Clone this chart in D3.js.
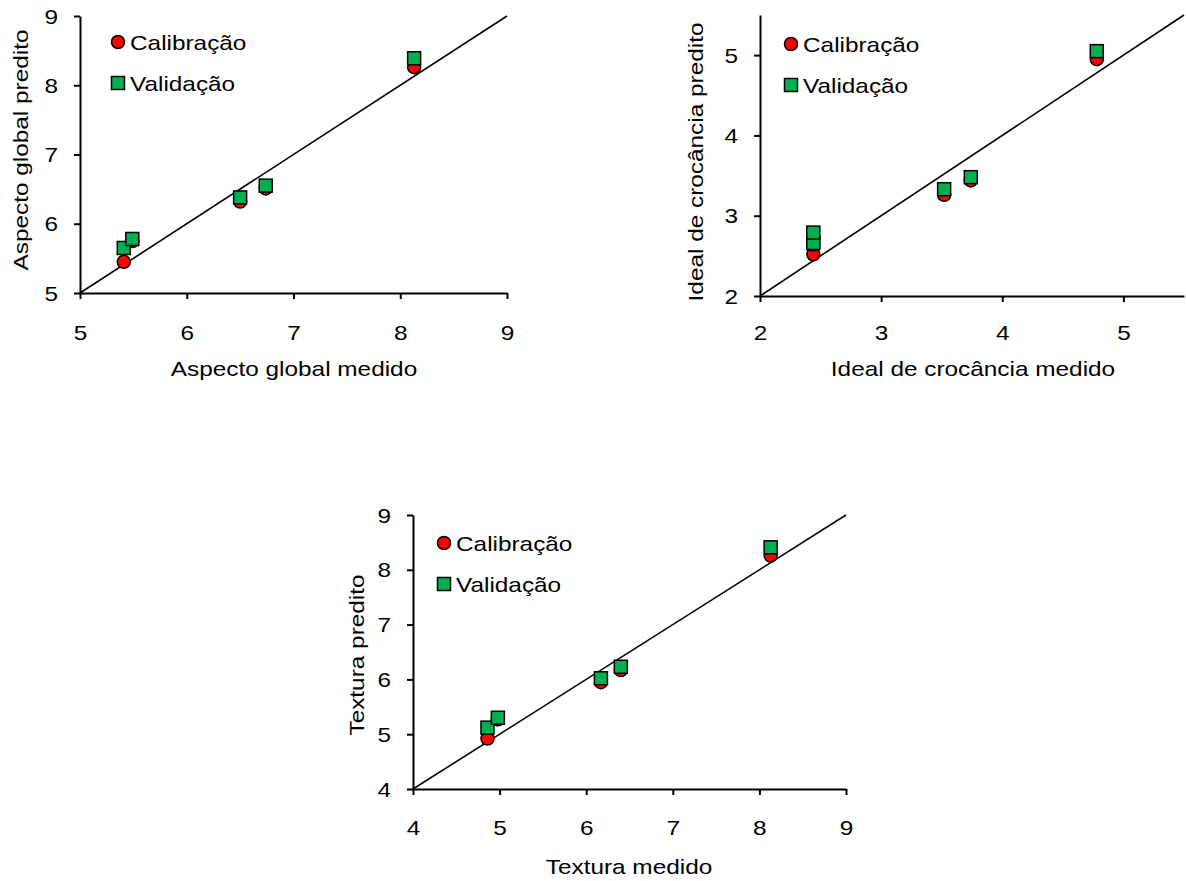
<!DOCTYPE html>
<html>
<head>
<meta charset="utf-8">
<script src="https://cdn.jsdelivr.net/npm/d3@7"></script>
<style>
  body { margin: 0; background: #fff; }
  svg text { font-family: "Liberation Sans", Arial, sans-serif; fill: #000; }
</style>
</head>
<body>
<svg id="chart" width="1186" height="881"></svg>
<script>
// Aspecto global
const aspectoMedido = [5.41, 5.49, 6.50, 6.74, 8.13];
const aspectoCalib  = [5.45, 5.75, 6.32, 6.51, 8.26];
const aspectoValid  = [5.65, 5.78, 6.38, 6.55, 8.39];
const aspectoTicks  = [5, 6, 7, 8, 9];

// Ideal de crocância
const crocMedido = [2.44, 2.44, 3.52, 3.74, 4.78];
const crocCalib  = [2.52, 2.64, 3.26, 3.44, 4.95];
const crocValid  = [2.66, 2.79, 3.33, 3.48, 5.05];
const crocTicks  = [2, 3, 4, 5];

// Textura
const texturaMedido = [4.86, 4.98, 6.17, 6.40, 8.13];
const texturaCalib  = [4.92, 5.27, 5.95, 6.17, 8.26];
const texturaValid  = [5.12, 5.30, 6.02, 6.23, 8.41];
const texturaTicks  = [4, 5, 6, 7, 8, 9];

const seriesNames = ["Calibração", "Validação"];

const svg = d3.select("#chart");
const STRETCH = 1.16;   // glyphs in the original are a bit wider than Arial

function stretchedText(g, str, x, y, anchor, rotate) {
  return g.append("text")
    .attr("transform", `translate(${x},${y}) rotate(${rotate || 0}) scale(${STRETCH},1)`)
    .attr("text-anchor", anchor)
    .style("font-size", "21px")
    .text(str);
}

function drawPanel(p) {
  const x = d3.scaleLinear().domain(p.domain).range([p.left, p.right]);
  const y = d3.scaleLinear().domain(p.domain).range([p.bottom, p.top]);
  const g = svg.append("g");

  // axes
  const xa = g.append("g")
    .attr("transform", `translate(0,${p.bottom})`)
    .call(d3.axisBottom(x).tickValues(p.ticks).tickSize(6).tickSizeOuter(0).tickFormat(d3.format("d")));
  xa.selectAll("text")
    .attr("y", p.xLabelY).attr("dy", "0.71em")
    .attr("transform", `scale(${STRETCH},1)`)
    .style("font-size", "21px");

  const ya = g.append("g")
    .attr("transform", `translate(${p.left},0)`)
    .call(d3.axisLeft(y).tickValues(p.ticks).tickSize(6).tickSizeOuter(0).tickFormat(d3.format("d")));
  ya.selectAll("text")
    .attr("x", -22 / STRETCH).attr("dy", "0.34em")
    .attr("transform", `scale(${STRETCH},1)`)
    .style("font-size", "21px");

  g.selectAll(".domain").attr("stroke", "#000").attr("stroke-width", 2);
  g.selectAll(".tick line").attr("stroke", "#000").attr("stroke-width", 2);

  // 1:1 line
  g.append("line")
    .attr("x1", x(p.domain[0])).attr("y1", y(p.domain[0]))
    .attr("x2", x(p.domain[1])).attr("y2", y(p.domain[1]))
    .attr("stroke", "#000").attr("stroke-width", 1.6);

  // calibration circles
  g.selectAll(".cal")
    .data(p.medido.map((m, i) => [m, p.calib[i]]))
    .enter().append("circle")
    .attr("cx", d => x(d[0])).attr("cy", d => y(d[1]))
    .attr("r", 6.5)
    .attr("fill", "#ff0000").attr("stroke", "#000").attr("stroke-width", 1.5);

  // validation squares
  g.selectAll(".val")
    .data(p.medido.map((m, i) => [m, p.valid[i]]))
    .enter().append("rect")
    .attr("x", d => x(d[0]) - 6.5).attr("y", d => y(d[1]) - 6.5)
    .attr("width", 13).attr("height", 13)
    .attr("fill", "#00b050").attr("stroke", "#000").attr("stroke-width", 1.5);

  // legend
  g.append("circle")
    .attr("cx", p.legX).attr("cy", p.legY).attr("r", 6.5)
    .attr("fill", "#ff0000").attr("stroke", "#000").attr("stroke-width", 1.5);
  stretchedText(g, seriesNames[0], p.legX + 12, p.legY + 8, "start");
  g.append("rect")
    .attr("x", p.legX - 6.5).attr("y", p.legY + 41 - 6.5).attr("width", 13).attr("height", 13)
    .attr("fill", "#00b050").attr("stroke", "#000").attr("stroke-width", 1.5);
  stretchedText(g, seriesNames[1], p.legX + 12, p.legY + 49, "start");

  // axis titles
  stretchedText(g, p.xTitle, p.xTitleX, p.xTitleY, "middle");
  stretchedText(g, p.yTitle, p.yTitleX, p.yTitleY, "middle", -90);
}

drawPanel({
  domain: [5, 9], ticks: aspectoTicks,
  medido: aspectoMedido, calib: aspectoCalib, valid: aspectoValid,
  left: 80, right: 507, top: 16, bottom: 293, xLabelY: 32,
  legX: 118, legY: 42,
  xTitle: "Aspecto global medido", xTitleX: 294, xTitleY: 376,
  yTitle: "Aspecto global predito", yTitleX: 28, yTitleY: 150
});

drawPanel({
  domain: [2, 5.5], ticks: crocTicks,
  medido: crocMedido, calib: crocCalib, valid: crocValid,
  left: 760, right: 1184, top: 15, bottom: 296, xLabelY: 29,
  legX: 791, legY: 44,
  xTitle: "Ideal de crocância medido", xTitleX: 973, xTitleY: 376,
  yTitle: "Ideal de crocância predito", yTitleX: 703, yTitleY: 162
});

drawPanel({
  domain: [4, 9], ticks: texturaTicks,
  medido: texturaMedido, calib: texturaCalib, valid: texturaValid,
  left: 413, right: 846, top: 515, bottom: 789, xLabelY: 31,
  legX: 444, legY: 543,
  xTitle: "Textura medido", xTitleX: 629, xTitleY: 874,
  yTitle: "Textura predito", yTitleX: 364, yTitleY: 655
});
</script>
</body>
</html>
